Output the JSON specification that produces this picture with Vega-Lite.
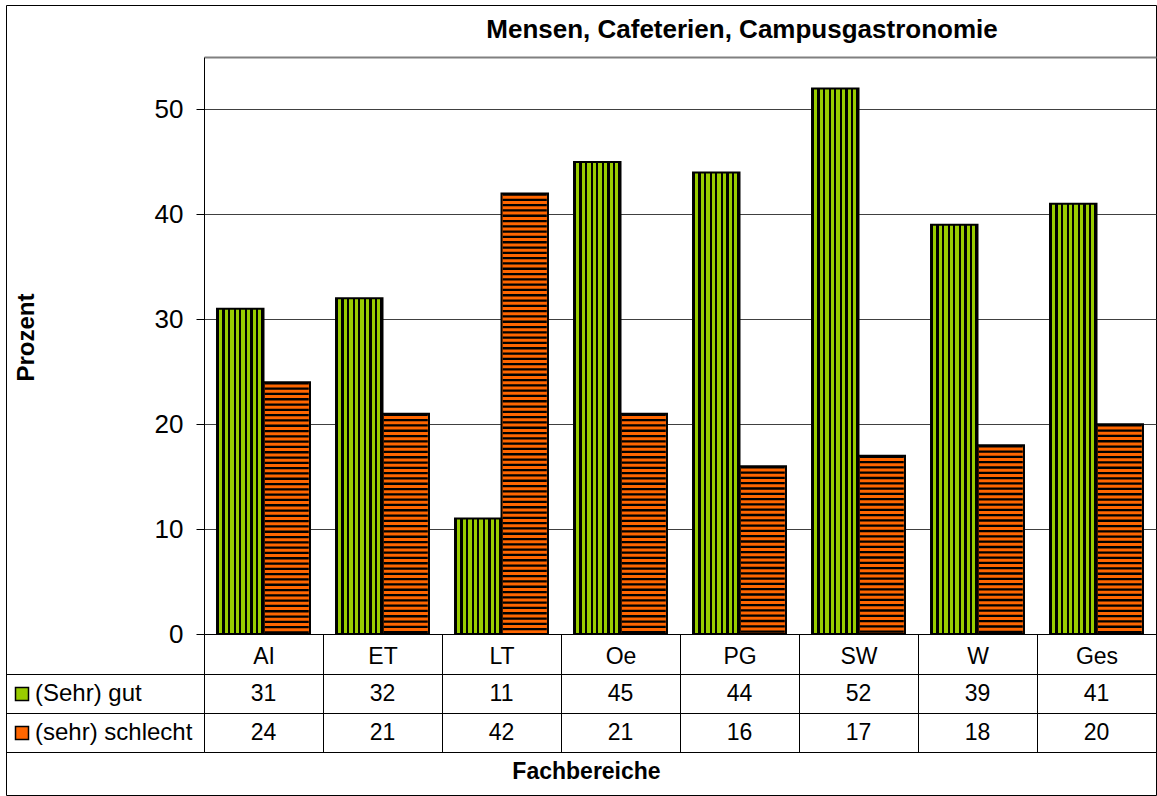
{
  "$schema": "https://vega.github.io/schema/vega-lite/v6.json",
  "width": 1150,
  "height": 790,
  "autosize": {"type": "none"},
  "padding": {"left": 6, "top": 5, "right": 1, "bottom": 1},
  "background": "white",
  "config": {"font": "Liberation Sans", "view": {"stroke": "black", "strokeWidth": 1}},
  "title": {"text": "Mensen, Cafeterien, Campusgastronomie", "fontSize": 26, "fontWeight": "bold", "color": "black", "anchor": "middle", "frame": "group", "baseline": "alphabetic", "offset": -59, "dx": 161},
  "data": {"values": [
    {"F": "AI", "B": "(Sehr) gut", "P": 31}, {"F": "AI", "B": "(sehr) schlecht", "P": 24},
    {"F": "ET", "B": "(Sehr) gut", "P": 32}, {"F": "ET", "B": "(sehr) schlecht", "P": 21},
    {"F": "LT", "B": "(Sehr) gut", "P": 11}, {"F": "LT", "B": "(sehr) schlecht", "P": 42},
    {"F": "Oe", "B": "(Sehr) gut", "P": 45}, {"F": "Oe", "B": "(sehr) schlecht", "P": 21},
    {"F": "PG", "B": "(Sehr) gut", "P": 44}, {"F": "PG", "B": "(sehr) schlecht", "P": 16},
    {"F": "SW", "B": "(Sehr) gut", "P": 52}, {"F": "SW", "B": "(sehr) schlecht", "P": 17},
    {"F": "W", "B": "(Sehr) gut", "P": 39}, {"F": "W", "B": "(sehr) schlecht", "P": 18},
    {"F": "Ges", "B": "(Sehr) gut", "P": 41}, {"F": "Ges", "B": "(sehr) schlecht", "P": 20}
  ]},
  "encoding": {
    "x": {
      "field": "F", "type": "nominal", "sort": null,
      "scale": {"domain": ["AI", "ET", "LT", "Oe", "PG", "SW", "W", "Ges"], "range": [198, 1150], "paddingInner": 0, "paddingOuter": 0},
      "axis": {"orient": "bottom", "offset": -161, "title": "Fachbereiche", "titleFontSize": 23, "titleFontWeight": "bold", "titleColor": "black", "titleX": 580, "titleY": 144, "titleBaseline": "alphabetic", "titleAlign": "center", "titleAngle": 0, "domainColor": "black", "domainWidth": 1, "tickBand": "extent", "tickSize": 118, "tickColor": "black", "tickWidth": 1, "labelAngle": 0, "labelFontSize": 23, "labelColor": "black", "labelPadding": -89, "labelBaseline": "alphabetic", "grid": false}
    }
  },
  "layer": [
    {
      "encoding": {
        "xOffset": {"field": "B", "type": "nominal", "scale": {"domain": ["(Sehr) gut", "(sehr) schlecht"], "paddingInner": 0, "paddingOuter": 0.28}},
        "y": {
          "field": "P", "type": "quantitative", "stack": null,
          "scale": {"domain": [0, 55], "range": [629, 52], "nice": false, "zero": true},
          "axis": {"orient": "left", "offset": -198, "values": [0, 10, 20, 30, 40, 50, 55], "labelExpr": "datum.value == 55 ? '' : datum.label", "labelFontSize": 26, "labelColor": "black", "labelPadding": 13, "tickSize": 8, "tickColor": {"condition": {"test": "datum.value == 55", "value": "transparent"}, "value": "black"}, "domainColor": "black", "domainWidth": 1, "grid": true, "gridColor": {"condition": {"test": "datum.value == 55", "value": "#808080"}, "value": "#404040"}, "gridWidth": {"condition": {"test": "datum.value == 55", "value": 2}, "value": 1}, "title": "Prozent", "titleFontSize": 24, "titleFontWeight": "bold", "titleColor": "black", "titleX": -178, "titleY": 332, "titleAngle": -90, "titleBaseline": "middle", "titleAlign": "center"}
        }
      },
      "layer": [
        {
          "mark": {"type": "bar", "strokeWidth": 0},
          "encoding": {
            "fill": {"field": "B", "type": "nominal", "scale": {"domain": ["(Sehr) gut", "(sehr) schlecht"], "range": ["#99cc00", "#ff6600"]},
              "legend": {"orient": "none", "legendX": 4, "legendY": 677, "title": null, "symbolType": "square", "symbolSize": 169, "symbolStrokeColor": "black", "symbolStrokeWidth": 1.5, "symbolOpacity": 1, "labelFontSize": 24, "labelColor": "black", "labelOffset": 1, "rowPadding": 15, "padding": 0}}
          }
        },
        {
          "transform": [{"filter": "datum.B === '(Sehr) gut'"}],
          "mark": {"type": "bar", "strokeWidth": 0, "fill": {"gradient": "linear", "x1": 0, "y1": 0, "x2": 1, "y2": 0, "stops": [
            {"offset": 0, "color": "black"}, {"offset": 0.0467, "color": "black"},
            {"offset": 0.0467, "color": "#99cc00"}, {"offset": 0.1163, "color": "#99cc00"},
            {"offset": 0.1163, "color": "black"}, {"offset": 0.1663, "color": "black"},
            {"offset": 0.1663, "color": "#99cc00"}, {"offset": 0.2359, "color": "#99cc00"},
            {"offset": 0.2359, "color": "black"}, {"offset": 0.2859, "color": "black"},
            {"offset": 0.2859, "color": "#99cc00"}, {"offset": 0.3554, "color": "#99cc00"},
            {"offset": 0.3554, "color": "black"}, {"offset": 0.4054, "color": "black"},
            {"offset": 0.4054, "color": "#99cc00"}, {"offset": 0.475, "color": "#99cc00"},
            {"offset": 0.475, "color": "black"}, {"offset": 0.525, "color": "black"},
            {"offset": 0.525, "color": "#99cc00"}, {"offset": 0.5946, "color": "#99cc00"},
            {"offset": 0.5946, "color": "black"}, {"offset": 0.6446, "color": "black"},
            {"offset": 0.6446, "color": "#99cc00"}, {"offset": 0.7141, "color": "#99cc00"},
            {"offset": 0.7141, "color": "black"}, {"offset": 0.7641, "color": "black"},
            {"offset": 0.7641, "color": "#99cc00"}, {"offset": 0.8337, "color": "#99cc00"},
            {"offset": 0.8337, "color": "black"}, {"offset": 0.8837, "color": "black"},
            {"offset": 0.8837, "color": "#99cc00"}, {"offset": 0.9533, "color": "#99cc00"},
            {"offset": 0.9533, "color": "black"}, {"offset": 1, "color": "black"}
          ]}}
        },
        {
          "transform": [{"filter": "datum.B === '(sehr) schlecht'"}],
          "mark": {"type": "rule", "stroke": "black", "strokeWidth": 44, "strokeDash": [2.3, 3], "strokeCap": "butt"},
          "encoding": {"y2": {"datum": 0}}
        },
        {
          "mark": {"type": "bar", "fill": "transparent", "stroke": "black", "strokeWidth": 2}
        }
      ]
    },
    {
      "mark": {"type": "text", "fontSize": 23, "color": "black", "baseline": "middle"},
      "encoding": {
        "y": {"field": "B", "type": "nominal", "scale": {"domain": ["(Sehr) gut", "(sehr) schlecht"], "range": [669, 747], "paddingInner": 0, "paddingOuter": 0},
          "axis": {"orient": "left", "offset": -198, "title": null, "labels": false, "domainColor": "black", "domainWidth": 1, "tickBand": "extent", "tickSize": 198, "tickColor": "black", "tickWidth": 1, "grid": true, "gridColor": "black", "gridWidth": 1}},
        "text": {"field": "P", "type": "quantitative"}
      }
    }
  ],
  "resolve": {"scale": {"y": "independent"}}
}
